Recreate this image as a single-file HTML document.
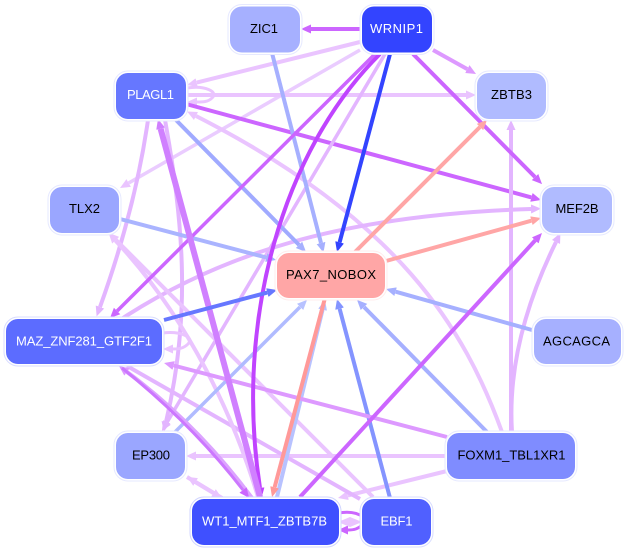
<!DOCTYPE html>
<html><head><meta charset="utf-8"><style>
html,body{margin:0;padding:0;background:#fff;width:627px;height:551px;overflow:hidden}
svg{display:block}
text{font-family:"Liberation Sans",Arial,sans-serif;font-size:13px;text-anchor:middle}
.e{fill:none}
</style></head><body>
<svg width="627" height="551" viewBox="0 0 627 551" xmlns="http://www.w3.org/2000/svg">
<defs>
<marker id="a1" markerUnits="userSpaceOnUse" markerWidth="12" markerHeight="12" refX="0" refY="6" orient="auto"><path d="M0,1.5L10,6L0,10.5z" fill="#cc66ff"/></marker>
<marker id="a2" markerUnits="userSpaceOnUse" markerWidth="12" markerHeight="12" refX="0" refY="6" orient="auto"><path d="M0,1.5L10,6L0,10.5z" fill="#eac4ff"/></marker>
<marker id="a3" markerUnits="userSpaceOnUse" markerWidth="12" markerHeight="12" refX="0" refY="6" orient="auto"><path d="M0,1.5L10,6L0,10.5z" fill="#e3b5ff"/></marker>
<marker id="a4" markerUnits="userSpaceOnUse" markerWidth="12" markerHeight="12" refX="0" refY="6" orient="auto"><path d="M0,1.5L10,6L0,10.5z" fill="#a6b0ff"/></marker>
<marker id="a5" markerUnits="userSpaceOnUse" markerWidth="12" markerHeight="12" refX="0" refY="6" orient="auto"><path d="M0,1.5L10,6L0,10.5z" fill="#3344ff"/></marker>
<marker id="a6" markerUnits="userSpaceOnUse" markerWidth="12" markerHeight="12" refX="0" refY="6" orient="auto"><path d="M0,1.5L10,6L0,10.5z" fill="#ffa6a6"/></marker>
<marker id="a7" markerUnits="userSpaceOnUse" markerWidth="12" markerHeight="12" refX="0" refY="6" orient="auto"><path d="M0,1.5L10,6L0,10.5z" fill="#6677ff"/></marker>
<marker id="a8" markerUnits="userSpaceOnUse" markerWidth="12" markerHeight="12" refX="0" refY="6" orient="auto"><path d="M0,1.5L10,6L0,10.5z" fill="#dd99ff"/></marker>
<marker id="a9" markerUnits="userSpaceOnUse" markerWidth="12" markerHeight="12" refX="0" refY="6" orient="auto"><path d="M0,1.5L10,6L0,10.5z" fill="#8494ff"/></marker>
<marker id="a10" markerUnits="userSpaceOnUse" markerWidth="12" markerHeight="12" refX="0" refY="6" orient="auto"><path d="M0,1.5L10,6L0,10.5z" fill="#d080ff"/></marker>
<marker id="a11" markerUnits="userSpaceOnUse" markerWidth="12" markerHeight="12" refX="0" refY="6" orient="auto"><path d="M0,1.5L10,6L0,10.5z" fill="#c044ff"/></marker>
<marker id="a12" markerUnits="userSpaceOnUse" markerWidth="12" markerHeight="12" refX="0" refY="6" orient="auto"><path d="M0,1.5L10,6L0,10.5z" fill="#b8c2ff"/></marker>
<marker id="a13" markerUnits="userSpaceOnUse" markerWidth="12" markerHeight="12" refX="0" refY="6" orient="auto"><path d="M0,1.5L10,6L0,10.5z" fill="#ff9999"/></marker>
</defs>

<g class="e" stroke-width="4">
<path d="M362,29L311,29" stroke="#cc66ff" marker-end="url(#a1)"/>
<path d="M360,42L196.7,82.6" stroke="#eac4ff" marker-end="url(#a2)"/>
<path d="M360,50L128.7,183" stroke="#eaccff" stroke-width="3.5" marker-end="url(#a2)"/>
<path d="M433,50L467.3,69.1" stroke="#dd99ff" marker-end="url(#a8)"/>
<path d="M187,95L466,95" stroke="#eac4ff" marker-end="url(#a2)"/>
<path d="M187,88C205,85 219,92 212,98C208,102 203,102 197,102" stroke="#eac4ff" stroke-width="3" marker-end="url(#a2)"/>
<path d="M186,104L531.4,197.4" stroke="#cc66ff" marker-end="url(#a1)"/>
<path d="M148,120Q135,210 100,307" stroke="#e3b5ff" marker-end="url(#a3)"/>
<path d="M165,120C185,230 190,320 166,422" stroke="#e3b5ff" marker-end="url(#a3)"/>
<path d="M385,54L167,422.4" stroke="#e3b5ff" stroke-width="3.5" marker-end="url(#a3)"/>
<path d="M502,432C465,330 400,220 196,116" stroke="#eac4ff" marker-end="url(#a2)"/>
<path d="M123,318C220,255 340,215 531,209" stroke="#e3b5ff" marker-end="url(#a3)"/>
<path d="M511,432L511,130" stroke="#e3b5ff" marker-end="url(#a3)"/>
<path d="M512,432C508,370 525,305 556,242" stroke="#e3b5ff" marker-end="url(#a3)"/>
<path d="M447,456L196,456" stroke="#eac4ff" marker-end="url(#a2)"/>
<path d="M447,471L347.7,495.6" stroke="#eac4ff" marker-end="url(#a2)"/>
<path d="M127,366L360,499" stroke="#e3b5ff"/>
<path d="M373,497L116,240" stroke="#eac4ff" marker-end="url(#a2)"/>
<path d="M258,497C235,420 190,320 115.5,240.6" stroke="#eac4ff" marker-end="url(#a2)"/>
<path d="M222,498L195.6,482" stroke="#eac4ff" marker-end="url(#a2)"/>
<path d="M187,477L213.4,493" stroke="#eac4ff" marker-end="url(#a2)"/>
<path d="M163,333C180,331 195,337 188,344C184,348 180,349 173,349" stroke="#eac4ff" stroke-width="3" marker-end="url(#a2)"/>
<path d="M120,219L266.3,257.5" stroke="#aab4ff" marker-end="url(#a4)"/>
<path d="M272,53L321,243" stroke="#a6b0ff" marker-end="url(#a4)"/>
<path d="M175,119L299,244.9" stroke="#a0aaff" marker-end="url(#a4)"/>
<path d="M175,432L300,307" stroke="#b0bbff" stroke-width="3.5" marker-end="url(#a12)"/>
<path d="M487,432L364,307" stroke="#a6b0ff" marker-end="url(#a4)"/>
<path d="M532,330L395.6,291.7" stroke="#a6b0ff" marker-end="url(#a4)"/>
<path d="M390,498L339.6,308.7" stroke="#8494ff" marker-end="url(#a9)"/>
<path d="M277,497L322.6,309.7" stroke="#b8c2ff" marker-end="url(#a12)"/>
<path d="M447,437L173.7,365.5" stroke="#dd99ff" marker-end="url(#a8)"/>
<path d="M375,54L117.1,311" stroke="#cc66ff" stroke-width="3.5" marker-end="url(#a1)"/>
<path d="M380,54C283,150 234,320 260,488" stroke="#c044ff" marker-end="url(#a11)"/>
<path d="M260,497L160.6,128.7" stroke="#d080ff" stroke-width="6" marker-end="url(#a10)"/>
<path d="M252,498Q197,424 127,372" stroke="#dca4ff" marker-end="url(#a8)"/>
<path d="M122,368Q192,424 243,490" stroke="#cc77ff" stroke-width="3" marker-end="url(#a1)"/>
<path d="M300,497L535.2,240.4" stroke="#cc66ff" marker-end="url(#a1)"/>
<path d="M413,54L535,177" stroke="#cc66ff" marker-end="url(#a1)"/>
<path d="M390,54L339.6,242.3" stroke="#3344ff" marker-end="url(#a5)"/>
<path d="M355,252L480,127" stroke="#ffa6a6" marker-end="url(#a6)"/>
<path d="M386,261L531.4,220.7" stroke="#ffa6a6" marker-end="url(#a6)"/>
<path d="M325,298L274.6,487.3" stroke="#ff9999" marker-end="url(#a13)"/>
<path d="M164,320L267.3,292.6" stroke="#6677ff" marker-end="url(#a7)"/>
<path d="M338,513C350,511 358,513 363,517" stroke="#cc66ff" stroke-width="3"/>
<path d="M362,525C358,529 354,530 348,530" stroke="#cc66ff" stroke-width="3" marker-end="url(#a1)"/>
</g>
<polygon points="338,522 350,517 362,522 350,527" fill="#eac4ff"/>

<g fill="#fff" stroke="#e6e9ff" stroke-width="1">
<rect x="228" y="4.5" width="74" height="50" rx="14"/>
<rect x="360" y="4.5" width="74" height="50" rx="14"/>
<rect x="114" y="71" width="74" height="50" rx="14"/>
<rect x="475" y="71" width="73" height="50" rx="14"/>
<rect x="48" y="185" width="73" height="50" rx="14"/>
<rect x="540" y="185" width="74" height="50" rx="14"/>
<rect x="275" y="251" width="112" height="49" rx="14" stroke="#ffecec"/>
<rect x="4" y="317" width="160" height="49" rx="14" stroke="#d8dcff"/>
<rect x="532" y="317" width="91" height="49" rx="14"/>
<rect x="114" y="431" width="73" height="50" rx="14"/>
<rect x="445" y="431" width="132" height="50" rx="14"/>
<rect x="190" y="497" width="151" height="50" rx="14" stroke="#d0d4ff"/>
<rect x="360" y="497" width="73" height="50" rx="14" stroke="#d8dcff"/>
</g>
<g>
<rect x="230" y="6.5" width="70" height="46" rx="12" fill="#a6b0ff"/>
<rect x="362" y="6.5" width="70" height="46" rx="12" fill="#3344ff"/>
<rect x="116" y="73" width="70" height="46" rx="12" fill="#6677ff"/>
<rect x="477" y="73" width="69" height="46" rx="12" fill="#b0bbff"/>
<rect x="50" y="187" width="69" height="46" rx="12" fill="#9aa6ff"/>
<rect x="542" y="187" width="70" height="46" rx="12" fill="#b0bbff"/>
<rect x="277" y="253" width="108" height="45" rx="12" fill="#ffa6a6"/>
<rect x="6" y="319" width="156" height="45" rx="12" fill="#5c6cff"/>
<rect x="534" y="319" width="87" height="45" rx="12" fill="#a6b0ff"/>
<rect x="116" y="433" width="69" height="46" rx="12" fill="#9aa6ff"/>
<rect x="447" y="433" width="128" height="46" rx="12" fill="#7f8cff"/>
<rect x="192" y="499" width="147" height="46" rx="12" fill="#3f50ff"/>
<rect x="362" y="499" width="69" height="46" rx="12" fill="#5060ff"/>
</g>
<text x="264" y="33" textLength="28" lengthAdjust="spacing">ZIC1</text>
<text x="396.5" y="33" fill="#fff" textLength="53" lengthAdjust="spacing">WRNIP1</text>
<text x="150.5" y="99" fill="#fff" textLength="47" lengthAdjust="spacing">PLAGL1</text>
<text x="511.5" y="99" textLength="41" lengthAdjust="spacing">ZBTB3</text>
<text x="84.5" y="213" textLength="31" lengthAdjust="spacing">TLX2</text>
<text x="577" y="213" textLength="43" lengthAdjust="spacing">MEF2B</text>
<text x="331" y="279" textLength="90" lengthAdjust="spacing">PAX7_NOBOX</text>
<text x="84" y="345.5" fill="#fff" textLength="136" lengthAdjust="spacing">MAZ_ZNF281_GTF2F1</text>
<text x="576.5" y="345.5" textLength="67" lengthAdjust="spacing">AGCAGCA</text>
<text x="151" y="459.5" textLength="38" lengthAdjust="spacing">EP300</text>
<text x="511.5" y="459.5" textLength="108" lengthAdjust="spacing">FOXM1_TBL1XR1</text>
<text x="264.5" y="525.5" fill="#fff" textLength="125" lengthAdjust="spacing">WT1_MTF1_ZBTB7B</text>
<text x="396.5" y="525.5" fill="#fff" textLength="32" lengthAdjust="spacing">EBF1</text>
</svg>
</body></html>
